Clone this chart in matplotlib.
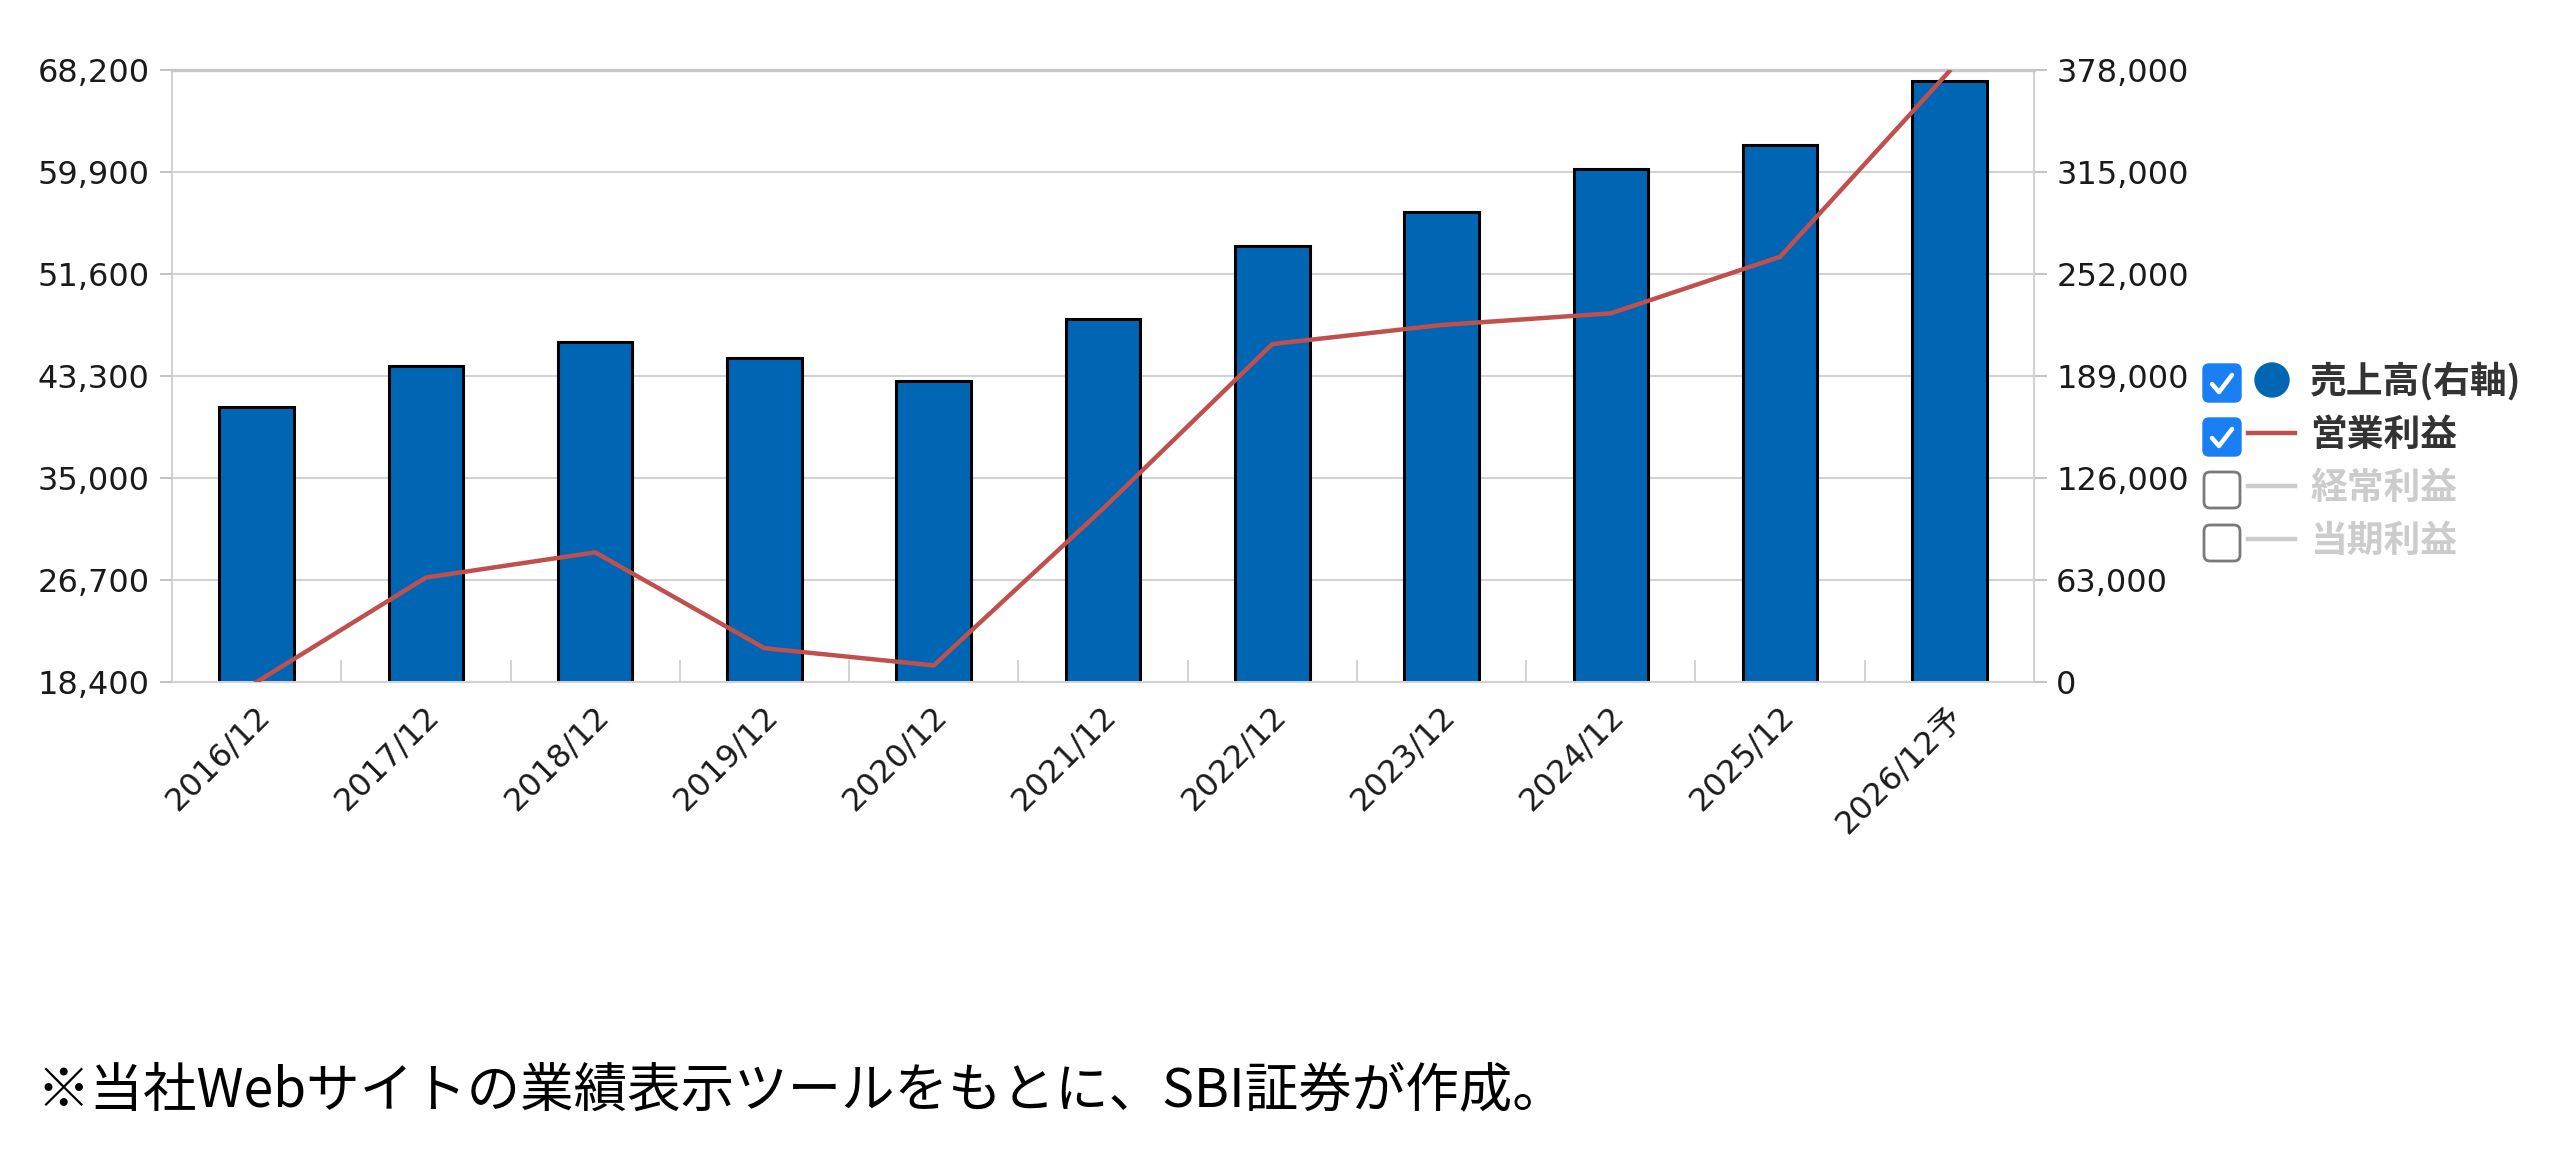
import matplotlib
matplotlib.use('Agg')
import matplotlib.pyplot as plt
import matplotlib.patches as mpatches
from matplotlib.transforms import ScaledTranslation
import numpy as np

plt.rcParams['font.family'] = ['DejaVu Sans', 'Noto Sans CJK JP']

# data
periods = ['2016/12', '2017/12', '2018/12', '2019/12', '2020/12', '2021/12',
           '2022/12', '2023/12', '2024/12', '2025/12', '2026/12予']
sales = [169600, 195100, 209900, 200300, 186000, 224200,
         269500, 290000, 316900, 331700, 371500]            # 売上高 (right axis)
op_profit = [18400, 26900, 28950, 21150, 19750, 32500,
             45900, 47450, 48400, 53000, 68100]              # 営業利益 (left axis)
left_ticks = [18400, 26700, 35000, 43300, 51600, 59900, 68200]
right_ticks = [0, 63000, 126000, 189000, 252000, 315000, 378000]
legend_labels = ['売上高(右軸)', '営業利益', '経常利益', '当期利益']
legend_checked = [True, True, False, False]

bar_color = '#0066b3'
line_color = '#c0504d'
grid_color = '#d2d2d2'
tick_color = '#c4c4c4'

fig = plt.figure(figsize=(25.6, 11.58), dpi=100)
ax = fig.add_axes([172 / 2560, 1 - 682 / 1158, (2034 - 172) / 2560, (682 - 70) / 1158])
x = np.arange(len(periods))

# bars on the primary axes (right scale)
ax.bar(x, sales, width=0.44, color=bar_color, edgecolor='black', linewidth=2.2, zorder=2)
ax.set_ylim(right_ticks[0], right_ticks[-1])
ax.set_xlim(-0.5, len(periods) - 0.5)
ax.set_axisbelow(True)
ax.grid(axis='y', color=grid_color, linewidth=1.5)

# line on twin axes (left scale)
ax2 = ax.twinx()
ax2.plot(x, op_profit, color=line_color, linewidth=3.2, zorder=3)
ax2.set_ylim(left_ticks[0], left_ticks[-1])

# twinx resets sides, so set them afterwards
ax.yaxis.tick_right()
ax.yaxis.set_label_position('right')
ax.set_yticks(right_ticks)
ax.set_yticklabels([f'{v:,}' for v in right_ticks])
ax2.yaxis.tick_left()
ax2.yaxis.set_label_position('left')
ax2.set_yticks(left_ticks)
ax2.set_yticklabels([f'{v:,}' for v in left_ticks])

for a in (ax, ax2):
    for s in a.spines.values():
        s.set_visible(False)
    a.tick_params(axis='y', length=9, width=1.4, color=tick_color, pad=7,
                  labelsize=23, labelcolor='#1a1a1a')

for side in ('left', 'right', 'bottom', 'top'):
    ax.spines[side].set_visible(True)
    ax.spines[side].set_color(grid_color)
    ax.spines[side].set_linewidth(1.5)
ax.spines['top'].set_color('#c8c8c8')
ax.spines['top'].set_linewidth(2.4)

# x axis: labels at centers, small inward ticks at boundaries
ax.set_xticks(x)
ax.set_xticklabels(periods, rotation=45, ha='right', va='top', rotation_mode='anchor')
ax.tick_params(axis='x', which='major', length=0, pad=13, labelsize=23, labelcolor='#1a1a1a')
ax.set_xticks(x[:-1] + 0.5, minor=True)
ax.tick_params(axis='x', which='minor', direction='in', length=16, width=1.4, color=grid_color)
for lbl in ax.get_xticklabels():
    lbl.set_transform(lbl.get_transform() + ScaledTranslation(-2 / 100, 0, fig.dpi_scale_trans))

# overlay in pixel coordinates for legend and footnote
ov = fig.add_axes([0, 0, 1, 1], zorder=10)
ov.set_xlim(0, 2560)
ov.set_ylim(1158, 0)
ov.axis('off')

row_y = [383, 437, 490, 543]
box_x, box_s = 2203, 38
for i, (lab, on) in enumerate(zip(legend_labels, legend_checked)):
    cy = row_y[i]
    if on:
        ov.add_patch(mpatches.FancyBboxPatch((box_x, cy - box_s / 2), box_s, box_s,
                                             boxstyle='round,pad=0,rounding_size=6',
                                             facecolor='#1a7ff2', edgecolor='#1a7ff2', lw=1))
        ov.plot([box_x + 9, box_x + 16, box_x + 29], [cy + 1, cy + 9, cy - 8],
                color='white', lw=3.2, solid_capstyle='round', solid_joinstyle='round')
    else:
        ov.add_patch(mpatches.FancyBboxPatch((box_x + 1, cy - box_s / 2 + 1), box_s - 2, box_s - 2,
                                             boxstyle='round,pad=0,rounding_size=6',
                                             facecolor='white', edgecolor='#7a7a7a', lw=2))
    if i == 0:
        ov.add_patch(mpatches.Circle((2272, cy - 3), 17, color=bar_color))
    else:
        ov.plot([2248, 2295], [cy - 4, cy - 4], color=line_color if on else '#cccccc', lw=3.2)
    ov.text(2310, cy - 2, lab, fontsize=26.5, fontweight='bold', va='center', ha='left',
            color='#333333' if on else '#cccccc', family=['Noto Sans CJK JP', 'DejaVu Sans'])

ov.text(36, 1091, '※当社Webサイトの業績表示ツールをもとに、SBI証券が作成。', fontsize=38.5,
        va='center', ha='left', color='black', family=['Noto Sans CJK JP', 'DejaVu Sans'])

fig.savefig('out.png', dpi=100, facecolor='white')
